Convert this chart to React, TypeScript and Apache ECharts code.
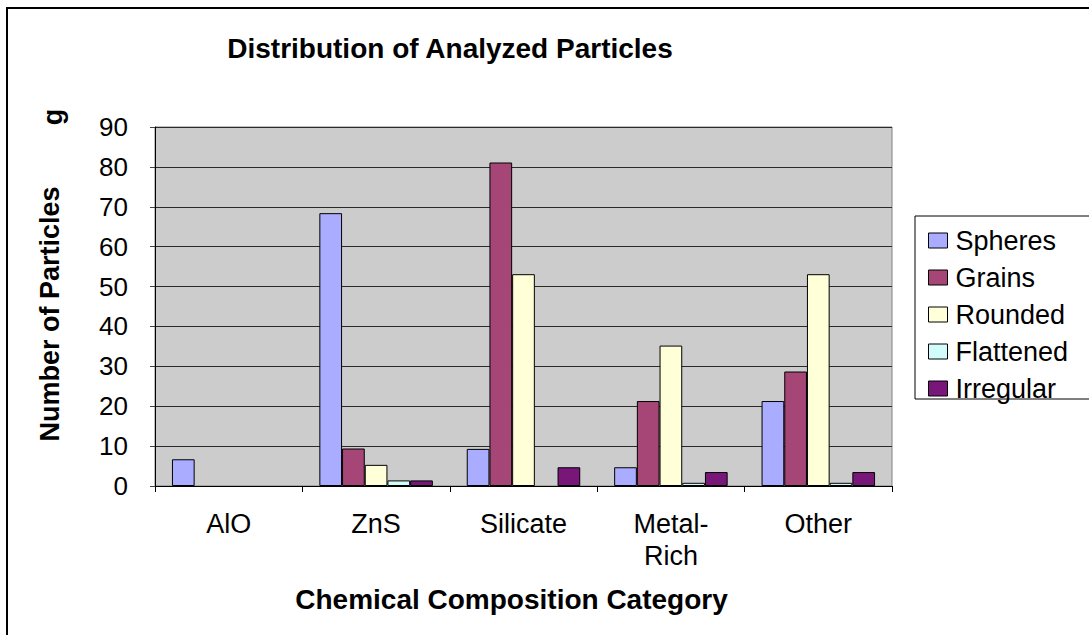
import React, { useEffect, useRef } from "react";
import * as echarts from "echarts";

const categories = ["AlO", "ZnS", "Silicate", "Metal-\nRich", "Other"];
const seriesNames = ["Spheres", "Grains", "Rounded", "Flattened", "Irregular"];
const spheres = [6.7, 68.4, 9.3, 4.7, 21.3];
const grains = [0, 9.4, 81.1, 21.3, 28.7];
const rounded = [0, 5.3, 53.1, 35.2, 53.1];
const flattened = [0, 1.4, 0, 0.8, 0.8];
const irregular = [0, 1.4, 4.7, 3.5, 3.5];
const yTicks = { min: 0, max: 90, interval: 10 };

const colors = ["#AAADFF", "#A54676", "#FFFFD8", "#D2FCFC", "#78167A"];
const FONT = "'Liberation Sans', Arial, sans-serif";

export default function App() {
  const ref = useRef<HTMLDivElement>(null);
  useEffect(() => {
    if (!ref.current) return;
    const chart = echarts.init(ref.current, undefined, { renderer: "svg" });
    const values = [spheres, grains, rounded, flattened, irregular];
    chart.setOption({
      animation: false,
      backgroundColor: "#FFFFFF",
      textStyle: { fontFamily: FONT },
      grid: {
        left: 155,
        top: 127,
        right: 197,
        bottom: 149,
        show: true,
        backgroundColor: "#CCCCCC",
        borderColor: "#808080",
        borderWidth: 1,
      },
      legend: {
        orient: "vertical",
        left: 923,
        top: 222,
        itemWidth: 19,
        itemHeight: 15,
        itemGap: 10,
        icon: "rect",
        itemStyle: { borderColor: "#000", borderWidth: 1 },
        textStyle: {
          fontFamily: FONT,
          fontSize: 27,
          lineHeight: 27,
          color: "#000",
          padding: [0, 0, 0, 3],
        },
        data: seriesNames,
      },
      xAxis: {
        type: "category",
        data: categories,
        axisLine: { show: true, lineStyle: { color: "#000", width: 1 } },
        axisTick: { show: true, length: 6, lineStyle: { color: "#000" } },
        axisLabel: {
          fontFamily: FONT,
          fontSize: 27,
          lineHeight: 32,
          color: "#000",
          margin: 22,
        },
        splitLine: { show: false },
      },
      yAxis: {
        type: "value",
        min: yTicks.min,
        max: yTicks.max,
        interval: yTicks.interval,
        axisLine: { show: true, lineStyle: { color: "#000", width: 1 } },
        axisTick: { show: true, length: 5, lineStyle: { color: "#444" } },
        axisLabel: {
          fontFamily: FONT,
          fontSize: 26,
          color: "#000",
          margin: 27,
        },
        splitLine: { show: true, lineStyle: { color: "#2a2a2a", width: 1 } },
      },
      series: seriesNames.map((name, i) => ({
        name,
        type: "bar",
        data: values[i].map((v) =>
          v === 0 ? { value: v, itemStyle: { borderWidth: 0 } } : v
        ),
        barGap: "0%",
        barCategoryGap: "23%",
        itemStyle: { color: colors[i], borderColor: "#000", borderWidth: 1 },
      })),
      graphic: [
        {
          type: "rect",
          shape: { x: 7, y: 8, width: 1300, height: 900 },
          style: { fill: "none", stroke: "#000", lineWidth: 2 },
          silent: true,
        },
        {
          type: "rect",
          shape: { x: 915, y: 216, width: 300, height: 183 },
          style: { fill: "none", stroke: "#000", lineWidth: 1 },
          silent: true,
        },
        {
          type: "text",
          x: 450,
          y: 48.5,
          style: {
            text: "Distribution of Analyzed Particles",
            fontFamily: FONT,
            fontSize: 28,
            fontWeight: "bold",
            fill: "#000",
            align: "center",
            verticalAlign: "middle",
          },
        },
        {
          type: "text",
          x: 511.5,
          y: 599,
          style: {
            text: "Chemical Composition Category",
            fontFamily: FONT,
            fontSize: 28,
            fontWeight: "bold",
            fill: "#000",
            align: "center",
            verticalAlign: "middle",
          },
        },
        {
          type: "text",
          x: 50,
          y: 314,
          rotation: Math.PI / 2,
          style: {
            text: "Number of Particles",
            fontFamily: FONT,
            fontSize: 27,
            fontWeight: "bold",
            fill: "#000",
            align: "center",
            verticalAlign: "middle",
          },
        },
        {
          type: "text",
          x: 53,
          y: 117,
          rotation: Math.PI / 2,
          style: {
            text: "g",
            fontFamily: FONT,
            fontSize: 27,
            fontWeight: "bold",
            fill: "#000",
            align: "center",
            verticalAlign: "middle",
          },
        },
      ],
    });
    return () => chart.dispose();
  }, []);
  return (
    <div
      ref={ref}
      style={{ position: "fixed", left: 0, top: 0, width: 1089, height: 635 }}
    />
  );
}
